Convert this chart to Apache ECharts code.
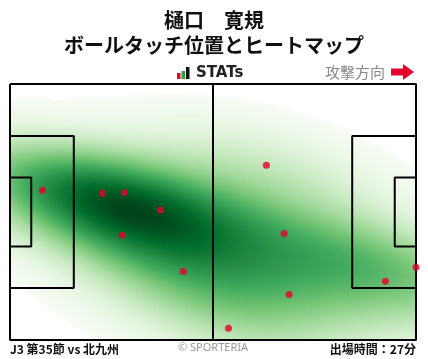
<!DOCTYPE html>
<html><head><meta charset="utf-8">
<script src="https://cdn.jsdelivr.net/npm/echarts@6/dist/echarts.min.js"></script>
<style>html,body{margin:0;padding:0;background:#fff;}#c{width:428px;height:359px;}</style>
</head><body><div id="c"></div>
<script>
// ---- data (field metres: x 0..105 attacking →, y 0..68 from top) ----
const touchX = [8.4, 23.9, 29.6, 38.9, 29.0, 44.8, 66.3, 70.9, 72.2, 56.5, 97.1, 105.0];
const touchY = [28.2, 29.0, 28.8, 33.5, 40.2, 49.8, 21.6, 39.7, 55.9, 64.9, 52.4, 48.7];
const titleName = '樋口　寛規';
const titleSub = 'ボールタッチ位置とヒートマップ';
const matchLabel = 'J3 第35節 vs 北九州';
const minutesLabel = '出場時間：27分';
const fieldLength = 105, fieldWidth = 68;

// ---- KDE (gaussian, Scott's rule, full covariance) derived from the touches ----
const bwAdjust = 1.2;
const n = touchX.length;
const mx = touchX.reduce((a,b)=>a+b,0)/n, my = touchY.reduce((a,b)=>a+b,0)/n;
let sxx=0, syy=0, sxy=0;
for (let i=0;i<n;i++){const dx=touchX[i]-mx, dy=touchY[i]-my; sxx+=dx*dx; syy+=dy*dy; sxy+=dx*dy;}
sxx/=(n-1); syy/=(n-1); sxy/=(n-1);
const f = Math.pow(n, -1/6)*bwAdjust;
const kxx=sxx*f*f, kyy=syy*f*f, kxy=sxy*f*f;
const det = kxx*kyy-kxy*kxy;
const ixx=kyy/det, iyy=kxx/det, ixy=-kxy/det;
const norm = 1/(n*2*Math.PI*Math.sqrt(det));
function dens(x,y){let s=0;for(let i=0;i<n;i++){const dx=x-touchX[i], dy=y-touchY[i];s+=Math.exp(-0.5*(ixx*dx*dx+2*ixy*dx*dy+iyy*dy*dy));}return s*norm;}
// threshold like seaborn (thresh on extended support grid)
function levelFor(thresh){
  const bx=f*Math.sqrt(sxx), by=f*Math.sqrt(syy), G=200;
  const x0=Math.min(...touchX)-3*bx, x1=Math.max(...touchX)+3*bx;
  const y0=Math.min(...touchY)-3*by, y1=Math.max(...touchY)+3*by;
  const vals=[];
  for(let i=0;i<G;i++)for(let j=0;j<G;j++)vals.push(dens(x0+(x1-x0)*i/(G-1), y0+(y1-y0)*j/(G-1)));
  vals.sort((a,b)=>b-a);
  const tot=vals.reduce((a,b)=>a+b,0); let c=0;
  for(let k=0;k<vals.length;k++){c+=vals[k]; if(c/tot>=1-thresh) return vals[k];}
  return vals[vals.length-1];
}
const level = levelFor(0.03);
const NX=203, NY=128;
const xCats=[], yCats=[];
for(let i=0;i<NX;i++) xCats.push(i);
for(let j=0;j<NY;j++) yCats.push(j);
const heat=[]; let dmax=0;
for(let i=0;i<NX;i++)for(let j=0;j<NY;j++){
  const v=dens((i+0.5)*fieldLength/NX,(j+0.5)*fieldWidth/NY);
  if(v>dmax)dmax=v;
  if(v>=level) heat.push([i,j,v]);
}

// ---- pitch markings (metres) ----
const pa = 16.5, pw = 40.32, ga = 5.5, gw = 18.32;
const pitchLines = [
  [[0,0],[105,0],[105,68],[0,68],[0,0]],
  [[52.5,0],[52.5,68]],
  [[0,(68-pw)/2],[pa,(68-pw)/2],[pa,(68+pw)/2],[0,(68+pw)/2]],
  [[0,(68-gw)/2],[ga,(68-gw)/2],[ga,(68+gw)/2],[0,(68+gw)/2]],
  [[105,(68-pw)/2],[105-pa,(68-pw)/2],[105-pa,(68+pw)/2],[105,(68+pw)/2]],
  [[105,(68-gw)/2],[105-ga,(68-gw)/2],[105-ga,(68+gw)/2],[105,(68+gw)/2]]
];

const chart = echarts.init(document.getElementById('c'), null, {renderer:'canvas'});
const jp = '"Noto Sans CJK JP", "Noto Sans", sans-serif';
const series = [{
  type:'heatmap', xAxisIndex:0, yAxisIndex:0, data:heat, progressive:0, silent:true,
  itemStyle:{borderWidth:0}, emphasis:{disabled:true}
}];
pitchLines.forEach(pl=>series.push({
  type:'line', xAxisIndex:1, yAxisIndex:1, data:pl, symbol:'none', clip:false, silent:true,
  lineStyle:{color:'#000', width:2}, z:3
}));
series.push({
  type:'scatter', xAxisIndex:1, yAxisIndex:1, data:touchX.map((x,i)=>[x,touchY[i]]),
  symbolSize:7, itemStyle:{color:'#e8002a'}, z:4, clip:true, silent:true
});
chart.setOption({
  animation:false,
  grid:{left:10, top:84, width:406, height:256, show:false},
  xAxis:[
    {type:'category', data:xCats, show:false, boundaryGap:true},
    {type:'value', min:0, max:fieldLength, show:false}
  ],
  yAxis:[
    {type:'category', data:yCats, show:false, inverse:true, boundaryGap:true},
    {type:'value', min:0, max:fieldWidth, show:false, inverse:true}
  ],
  visualMap:{type:'continuous', show:false, seriesIndex:0, min:level, max:dmax, dimension:2,
    inRange:{color:['#f7fcf5','#e5f5e0','#c7e9c0','#a1d99b','#74c476','#41ab5d','#238b45','#006d2c','#00441b']}},
  graphic:[
    {type:'text', left:'center', top:10, style:{text:titleName, font:'bold 20px '+jp, fill:'#111'}},
    {type:'text', left:'center', top:35, style:{text:titleSub, font:'bold 20px '+jp, fill:'#111'}},
    {type:'rect', shape:{x:177, y:73, width:3.5, height:6}, style:{fill:'#e6002d'}},
    {type:'rect', shape:{x:181.5, y:71, width:3.5, height:8}, style:{fill:'#2aa33a'}},
    {type:'rect', shape:{x:186, y:67, width:3.5, height:12}, style:{fill:'#111'}},
    {type:'text', x:196, y:73, style:{text:'STATs', font:'bold 15px "DejaVu Sans", sans-serif', fill:'#222', verticalAlign:'middle'}},
    {type:'text', x:385, y:72, style:{text:'攻撃方向', font:'15px '+jp, fill:'#888', align:'right', verticalAlign:'middle'}},
    {type:'polygon', shape:{points:[[391,68.5],[403,68.5],[403,64],[414,72],[403,80],[403,75.5],[391,75.5]]}, style:{fill:'#e6002d'}},
    {type:'text', x:10, y:349, style:{text:matchLabel, font:'bold 12px '+jp, fill:'#111', verticalAlign:'middle'}},
    {type:'text', x:213, y:348, style:{text:'© SPORTERIA', font:'11px "Noto Sans", sans-serif', fill:'#999', align:'center', verticalAlign:'middle'}},
    {type:'text', x:416, y:349, style:{text:minutesLabel, font:'bold 12px '+jp, fill:'#111', align:'right', verticalAlign:'middle'}}
  ],
  series:series
});
</script></body></html>
